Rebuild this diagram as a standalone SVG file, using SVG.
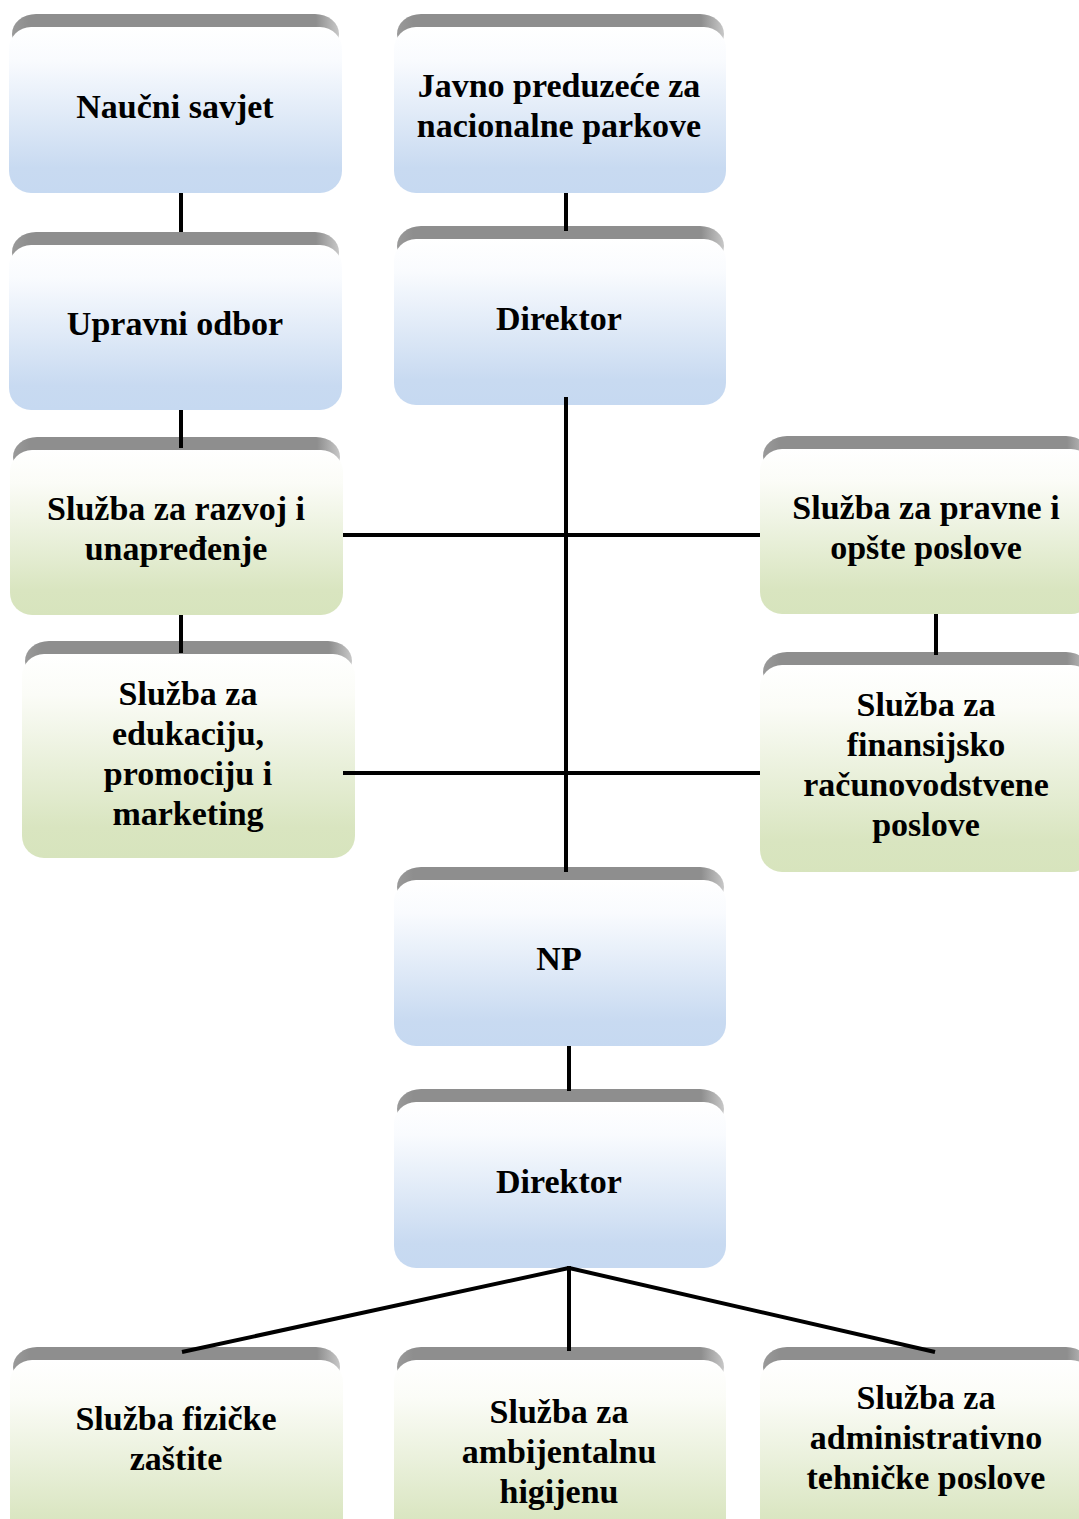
<svg xmlns="http://www.w3.org/2000/svg" width="1079" height="1519" viewBox="0 0 1079 1519">
<style>
.top{fill:url(#gray)}
.blue{fill:url(#gBlue)}
.green{fill:url(#gGreen)}
.t{font-family:"Liberation Serif","Times New Roman",serif;font-weight:bold;font-size:34px;fill:#000;text-anchor:middle}
.c{stroke:#000;stroke-width:4;fill:none}
</style>
<defs>
<linearGradient id="gBlue" x1="0" y1="0" x2="0" y2="1">
<stop offset="0" stop-color="#ffffff"/>
<stop offset="0.2" stop-color="#f9fbfe"/>
<stop offset="0.85" stop-color="#c8daf1"/>
<stop offset="1" stop-color="#c6d9f1"/>
</linearGradient>
<linearGradient id="gGreen" x1="0" y1="0" x2="0" y2="1">
<stop offset="0" stop-color="#ffffff"/>
<stop offset="0.2" stop-color="#fbfcf7"/>
<stop offset="0.85" stop-color="#d9e5c0"/>
<stop offset="1" stop-color="#d7e4bd"/>
</linearGradient>
<linearGradient id="gray" x1="0" y1="0" x2="1" y2="0">
<stop offset="0" stop-color="#9a9a9a"/>
<stop offset="0.05" stop-color="#8e8e8e"/>
<stop offset="0.93" stop-color="#8e8e8e"/>
<stop offset="1" stop-color="#c8c8c8"/>
</linearGradient>
</defs>

<g id="n1">
<rect class="top" x="12" y="14" width="327" height="40" rx="24"/>
<rect class="blue" x="9" y="27" width="333" height="166" rx="22"/>
<text class="t" x="175" y="118">Naučni savjet</text>
</g>
<g id="n2">
<rect class="top" x="397" y="14" width="327" height="40" rx="24"/>
<rect class="blue" x="394" y="27" width="332" height="166" rx="22"/>
<text class="t" x="559" y="97">Javno preduzeće za</text>
<text class="t" x="559" y="137">nacionalne parkove</text>
</g>
<g id="n3">
<rect class="top" x="12" y="232" width="327" height="40" rx="24"/>
<rect class="blue" x="9" y="245" width="333" height="165" rx="22"/>
<text class="t" x="175" y="335">Upravni odbor</text>
</g>
<g id="n4">
<rect class="top" x="397" y="226" width="327" height="40" rx="24"/>
<rect class="blue" x="394" y="239" width="332" height="166" rx="22"/>
<text class="t" x="559" y="330">Direktor</text>
</g>
<g id="n5">
<rect class="top" x="13" y="437" width="327" height="40" rx="24"/>
<rect class="green" x="10" y="450" width="333" height="165" rx="22"/>
<text class="t" x="176" y="520">Služba za razvoj i</text>
<text class="t" x="176" y="560">unapređenje</text>
</g>
<g id="n6">
<rect class="top" x="763" y="436" width="327" height="40" rx="24"/>
<rect class="green" x="760" y="449" width="333" height="165" rx="22"/>
<text class="t" x="926" y="519">Služba za pravne i</text>
<text class="t" x="926" y="559">opšte poslove</text>
</g>
<g id="n7">
<rect class="top" x="25" y="641" width="327" height="40" rx="24"/>
<rect class="green" x="22" y="654" width="333" height="204" rx="22"/>
<text class="t" x="188" y="705">Služba za</text>
<text class="t" x="188" y="745">edukaciju,</text>
<text class="t" x="188" y="785">promociju i</text>
<text class="t" x="188" y="825">marketing</text>
</g>
<g id="n8">
<rect class="top" x="763" y="652" width="327" height="40" rx="24"/>
<rect class="green" x="760" y="665" width="333" height="207" rx="22"/>
<text class="t" x="926" y="716">Služba za</text>
<text class="t" x="926" y="756">finansijsko</text>
<text class="t" x="926" y="796">računovodstvene</text>
<text class="t" x="926" y="836">poslove</text>
</g>
<g id="n9">
<rect class="top" x="397" y="867" width="327" height="40" rx="24"/>
<rect class="blue" x="394" y="880" width="332" height="166" rx="22"/>
<text class="t" x="559" y="970">NP</text>
</g>
<g id="n10">
<rect class="top" x="397" y="1089" width="327" height="40" rx="24"/>
<rect class="blue" x="394" y="1102" width="332" height="166" rx="22"/>
<text class="t" x="559" y="1193">Direktor</text>
</g>
<g id="n11">
<rect class="top" x="13" y="1347" width="327" height="40" rx="24"/>
<rect class="green" x="10" y="1360" width="333" height="190" rx="22"/>
<text class="t" x="176" y="1430">Služba fizičke</text>
<text class="t" x="176" y="1470">zaštite</text>
</g>
<g id="n12">
<rect class="top" x="397" y="1347" width="327" height="40" rx="24"/>
<rect class="green" x="394" y="1360" width="332" height="190" rx="22"/>
<text class="t" x="559" y="1423">Služba za</text>
<text class="t" x="559" y="1463">ambijentalnu</text>
<text class="t" x="559" y="1503">higijenu</text>
</g>
<g id="n13">
<rect class="top" x="763" y="1347" width="327" height="40" rx="24"/>
<rect class="green" x="760" y="1360" width="333" height="190" rx="22"/>
<text class="t" x="926" y="1409">Služba za</text>
<text class="t" x="926" y="1449">administrativno</text>
<text class="t" x="926" y="1489">tehničke poslove</text>
</g>

<g id="connectors">
<line class="c" x1="181" y1="193" x2="181" y2="232"/>
<line class="c" x1="566" y1="193" x2="566" y2="231"/>
<line class="c" x1="181" y1="410" x2="181" y2="448"/>
<line class="c" x1="566" y1="397" x2="566" y2="872"/>
<line class="c" x1="343" y1="535" x2="760" y2="535"/>
<line class="c" x1="181" y1="615" x2="181" y2="653"/>
<line class="c" x1="343" y1="773" x2="760" y2="773"/>
<line class="c" x1="936" y1="614" x2="936" y2="655"/>
<line class="c" x1="569" y1="1046" x2="569" y2="1091"/>
<line class="c" x1="569" y1="1266" x2="569" y2="1351"/>
<line class="c" x1="569" y1="1268" x2="182" y2="1352"/>
<line class="c" x1="569" y1="1268" x2="935" y2="1352"/>
</g>
</svg>
